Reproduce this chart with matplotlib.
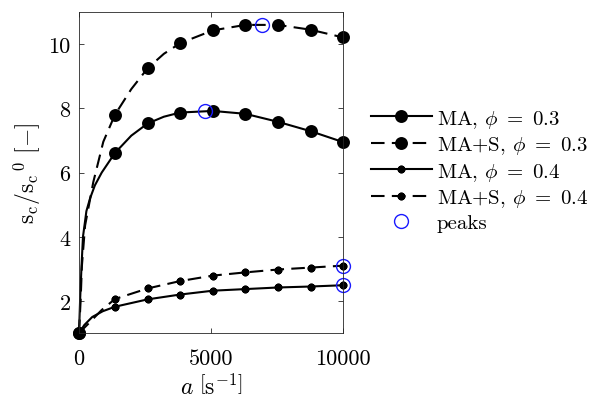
import numpy as np
import matplotlib
matplotlib.use("Agg")
import matplotlib.pyplot as plt

plt.rcParams['font.family'] = 'serif'
plt.rcParams['font.serif'] = ['cmr10']
plt.rcParams['mathtext.fontset'] = 'cm'
plt.rcParams['axes.formatter.use_mathtext'] = True

# marker positions along a [1/s]
a_mark = [0, 1360, 2600, 3830, 5070, 6300, 7540, 8770, 10000]

# MA, phi = 0.3
ma03_a = [0, 40, 90, 150, 280, 420, 600, 860, 1360, 1980, 2600, 3215, 3830, 5070, 6300, 7540, 8770, 10000]
ma03_s = [1.0, 2.0, 3.0, 4.0, 4.8, 5.2, 5.6, 6.0, 6.61, 7.15, 7.53, 7.74, 7.87, 7.92, 7.83, 7.58, 7.29, 6.95]

# MA+S, phi = 0.3
mas03_a = [0, 60, 110, 230, 540, 920, 1360, 1980, 2600, 3215, 3830, 5070, 6300, 7540, 8770, 10000]
mas03_s = [1.0, 2.0, 3.1, 4.35, 5.7, 6.96, 7.80, 8.6, 9.25, 9.7, 10.03, 10.43, 10.60, 10.60, 10.45, 10.21]

# MA, phi = 0.4
ma04_a = [0, 200, 500, 900, 1360, 2600, 3830, 5070, 6300, 7540, 8770, 10000]
ma04_s = [1.0, 1.25, 1.5, 1.68, 1.82, 2.05, 2.20, 2.32, 2.37, 2.42, 2.45, 2.49]

# MA+S, phi = 0.4
mas04_a = [0, 340, 860, 1360, 2600, 3830, 5070, 6300, 7540, 8770, 10000]
mas04_s = [1.0, 1.28, 1.72, 2.06, 2.39, 2.62, 2.79, 2.89, 2.98, 3.04, 3.10]

# maxima of each curve
peak_a = [4770, 6930, 10000, 10000]
peak_s = [7.93, 10.60, 2.49, 3.10]

labels = [r'MA, $\phi\ =\ 0.3$', r'MA+S, $\phi\ =\ 0.3$',
          r'MA, $\phi\ =\ 0.4$', r'MA+S, $\phi\ =\ 0.4$']

fig = plt.figure(figsize=(5.91, 4.02), dpi=100)
ax = fig.add_axes([0.1337, 0.169, 0.4467, 0.7985])

asterisk = (8, 2, 0)
series = [
    (ma03_a, ma03_s, '-', 'o', 7.5, labels[0]),
    (mas03_a, mas03_s, '--', 'o', 7.5, labels[1]),
    (ma04_a, ma04_s, '-', asterisk, 5.5, labels[2]),
    (mas04_a, mas04_s, '--', asterisk, 5.5, labels[3]),
]
for xa, ys, ls, mk, ms, lab in series:
    every = [i for i, v in enumerate(xa) if v in a_mark]
    line, = ax.plot(xa, ys, ls, color='k', lw=1.5, marker=mk, ms=ms,
                    mew=1.8, mfc='k', mec='k', markevery=every, label=lab,
                    clip_on=False)
    if ls == '--':
        line.set_dashes((6.5, 3.5))

ax.plot(peak_a, peak_s, 'o', ms=10, mfc='none', mec='#1a1aff', mew=1.0,
        label='peaks', clip_on=False)

ax.set_xlim(0, 10000)
ax.set_ylim(1, 11)
ax.set_xticks([0, 5000, 10000])
ax.set_xticklabels(['0', '5000', '10000'])
ax.set_yticks([2, 4, 6, 8, 10])
ax.set_yticklabels(['2', '4', '6', '8', '10'])
ax.tick_params(direction='in', top=True, right=True, length=3.5,
               width=0.6, labelsize=16, color='#262626')
ax.tick_params(axis='x', pad=11)
ax.tick_params(axis='y', pad=6)
for sp in ax.spines.values():
    sp.set_color('#262626')
    sp.set_linewidth(0.6)

ax.set_xlabel(r'$a\ \left[\mathrm{s}^{-1}\right]$', fontsize=17, labelpad=4)
ax.set_ylabel(r'$\mathrm{s_c/s_c}^{\,0}\ [-]$', fontsize=17, labelpad=4)

fig.legend(loc='upper left', bbox_to_anchor=(0.628, 0.730), frameon=False,
           fontsize=15, handlelength=2.9, handletextpad=0.25,
           labelspacing=0.22, borderpad=0, borderaxespad=0)

fig.savefig('out.png', dpi=100)
